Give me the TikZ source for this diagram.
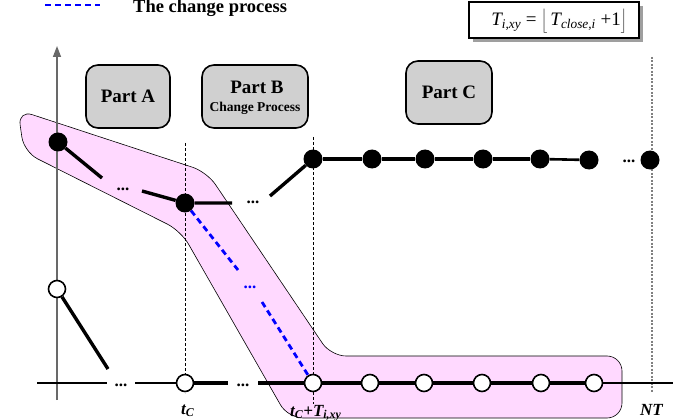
\documentclass[tikz,border=0pt]{standalone}
\usepackage{fontspec}
\setmainfont{Liberation Serif}
\usetikzlibrary{arrows.meta}
\definecolor{bandpink}{RGB}{255,217,255}
\definecolor{boxgray}{RGB}{208,208,208}
\definecolor{axisgray}{RGB}{105,105,105}
\begin{document}
\begin{tikzpicture}[x=1pt,y=-1pt,
  dot/.style={circle,fill=black,minimum size=19pt,inner sep=0pt},
  hollow/.style={circle,draw=black,fill=white,line width=1.6pt,minimum size=17pt,inner sep=0pt},
  link/.style={line width=3.4pt},
  axisline/.style={line width=1.4pt},
  guide/.style={line width=0.6pt,dash pattern=on 3pt off 2pt},
  farguide/.style={gray,line width=1.2pt,dash pattern=on 2pt off 1.5pt},
  change/.style={blue,line width=2.8pt,dash pattern=on 6pt off 4pt},
  partbox/.style={draw=black,line width=1.6pt,fill=boxgray,rounded corners=12pt,inner sep=0pt},
  ellip/.style={font=\fontsize{17}{17}\selectfont\bfseries,anchor=base,inner sep=0pt},
  lbl/.style={font=\fontsize{17}{17}\selectfont\bfseries\itshape,anchor=base west,inner sep=0pt},
]
\useasboundingbox (0,0) rectangle (673,420);

% legend
\coordinate (legA) at (45,5);
\coordinate (legB) at (100,5);
\draw[change] (legA) -- (legB);
\node[font=\fontsize{18.5}{19}\selectfont\bfseries,anchor=base west,inner sep=0pt] (legtext) at (133,13) {The change process};

% formula box with shadow
\fill[gray!75] (473,6) rectangle (643,42);
\draw[fill=white,line width=1.4pt] (469,2) rectangle (639,38);
\node[font=\fontsize{19}{19}\selectfont,inner sep=0pt] (formula) at (559,21)
  {{\itshape T}\textsubscript{\itshape i,xy} = $\bigg\lfloor$\,{\itshape T}\textsubscript{\itshape close,i} +1$\bigg\rfloor$};

% highlighted band
\fill[bandpink,draw=black,line width=0.6pt,rounded corners=15pt]
  (18,110) -- (207,172) -- (331,356) -- (622,356) -- (622,418) -- (288,418) -- (181,231) -- (24,152) -- cycle;

% part boxes
\node[partbox,minimum width=84pt,minimum height=63pt] (pA) at (128,96.5) {};
\node[font=\fontsize{19}{19}\selectfont\bfseries,inner sep=0pt] at (pA) {Part A};
\node[partbox,minimum width=106pt,minimum height=63pt] (pB) at (255,96.5) {};
\node[font=\fontsize{19}{19}\selectfont\bfseries,anchor=base,inner sep=0pt] at (257,94) {Part B};
\node[font=\fontsize{13.5}{14}\selectfont\bfseries,anchor=base,inner sep=0pt] at (255,112) {Change Process};
\node[partbox,minimum width=86pt,minimum height=63pt] (pC) at (449,92.5) {};
\node[font=\fontsize{19}{19}\selectfont\bfseries,inner sep=0pt] at (pC) {Part C};

% vertical axis
\coordinate (ybot) at (57,400);
\coordinate (ytop) at (57,46);
\draw[axisgray,axisline,-{Triangle[length=11pt,width=8pt]}] (ybot) -- (ytop);

% time guides
\coordinate (gA1) at (185,143); \coordinate (gA2) at (185,393);
\coordinate (gB1) at (313,137); \coordinate (gB2) at (313,404);
\coordinate (gN1) at (652,57);  \coordinate (gN2) at (652,393);
\draw[guide] (gA1) -- (gA2);
\draw[guide] (gB1) -- (gB2);
\draw[farguide] (gN1) -- (gN2);

% upper row (filled)
\node[dot] (fA) at (58,142) {};
\node[dot] (fB) at (185,203) {};
\node[dot] (fC1) at (313,159) {};
\node[dot] (fC2) at (372,159) {};
\node[dot] (fC3) at (425,159) {};
\node[dot] (fC4) at (483,159) {};
\node[dot] (fC5) at (540,159) {};
\node[dot] (fC6) at (589,160) {};
\node[dot] (fN) at (650,160) {};

% lower row (open)
\node[hollow] (oA) at (57,289) {};
\node[hollow] (oB) at (185,383) {};
\node[hollow] (oC1) at (313,383) {};
\node[hollow] (oC2) at (370,383) {};
\node[hollow] (oC3) at (424,383) {};
\node[hollow] (oC4) at (482,383) {};
\node[hollow] (oC5) at (541,383) {};
\node[hollow] (oC6) at (594,383) {};

% ellipses
\node[ellip] (e1) at (123,190) {...};
\node[ellip] (e2) at (253,203) {...};
\node[ellip] (e3) at (121,386) {...};
\node[ellip] (e4) at (243,386) {...};
\node[ellip] (e5) at (629,163) {...};
\node[ellip,text=blue] (eb) at (250,288) {...};

% upper connectors
\coordinate (u1) at (102,178);
\coordinate (u2) at (142,191);
\coordinate (u3) at (232,203);
\coordinate (u4) at (270,196);
\draw[link] (fA) -- (u1);
\draw[link] (u2) -- (fB) -- (u3);
\draw[link] (u4) -- (fC1);
\draw[link] (fC1) -- (fC2) -- (fC3) -- (fC4) -- (fC5);
\draw[line width=2.6pt] (fC5) -- (fC6);

% lower connectors
\coordinate (l0) at (37,383);
\coordinate (l1) at (107,383);
\coordinate (l2) at (135,383);
\coordinate (l3) at (228,383);
\coordinate (l4) at (258,383);
\coordinate (l5) at (673,383);
\coordinate (d1) at (108,369);
\draw[link] (oA) -- (d1);
\draw[axisline] (l0) -- (l1);
\draw[axisline] (l2) -- (oB);
\draw[link] (oB) -- (l3);
\draw[link] (l4) -- (oC1);
\draw[link] (oC1) -- (oC2) -- (oC3) -- (oC4) -- (oC5) -- (oC6);
\draw[axisline] (oC6) -- (l5);

% change process path
\coordinate (b1) at (238,270);
\coordinate (b2) at (262,302);
\draw[change] (fB) -- (b1);
\draw[change] (b2) -- (oC1);

% time labels
\node[lbl] (tc) at (181,414) {t\textsubscript{C}};
\node[lbl] (tct) at (290,416) {t\textsubscript{C}+T\textsubscript{i,xy}};
\node[lbl] (nt) at (640,415) {NT};
\end{tikzpicture}
\end{document}
